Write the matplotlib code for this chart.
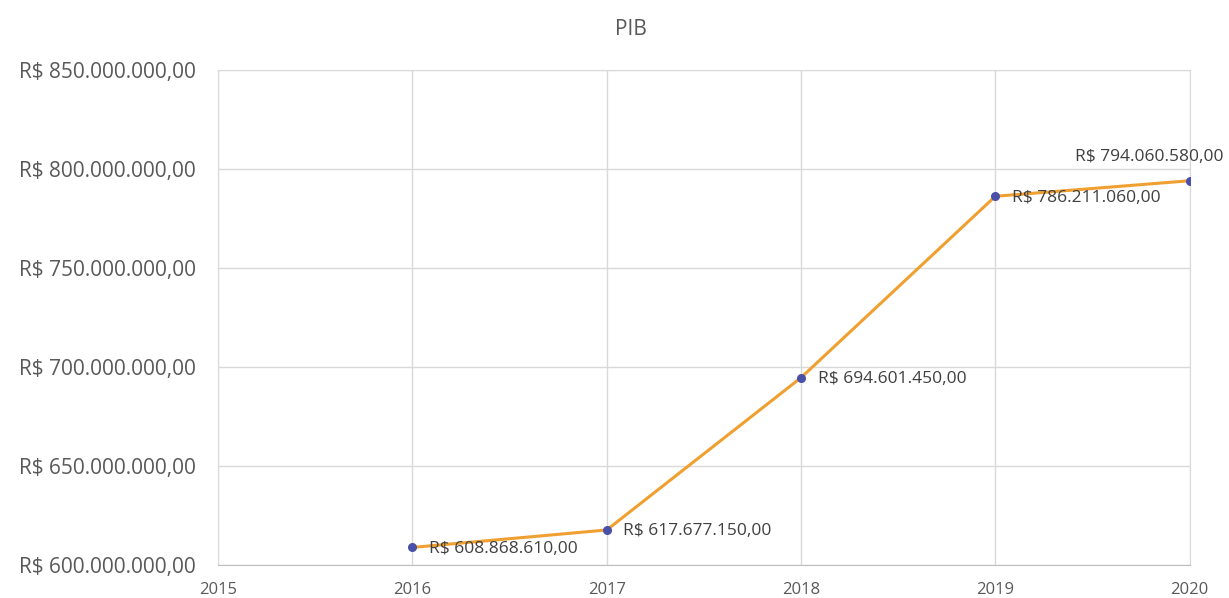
import matplotlib.pyplot as plt
from matplotlib.ticker import FuncFormatter

anos = [2016, 2017, 2018, 2019, 2020]
pib = [608868610.00, 617677150.00, 694601450.00, 786211060.00, 794060580.00]
yticks = [600e6, 650e6, 700e6, 750e6, 800e6, 850e6]
xticks = [2015, 2016, 2017, 2018, 2019, 2020]


def brl(v):
    s = f"{v:,.2f}"
    s = s.replace(",", "X").replace(".", ",").replace("X", ".")
    return "R$ " + s


plt.rcParams['font.family'] = ['Open Sans', 'DejaVu Sans']

fig = plt.figure(figsize=(12.29, 5.98), dpi=100)
ax = fig.add_axes([0.1774, 0.0552, 0.7906, 0.8278])

ax.plot(anos, pib, color='#F0A030', lw=2.2, zorder=3)
ax.plot(anos, pib, ls='none', marker='o', ms=5.5, color='#4A4FA8', zorder=4)

for i, (x, y) in enumerate(zip(anos, pib)):
    if i == len(anos) - 1:
        ax.annotate(brl(y), (x, y), xytext=(-29, 17), textcoords='offset points',
                    ha='center', va='center', fontsize=12.5, color='#404040',
                    annotation_clip=False)
    else:
        ax.annotate(brl(y), (x, y), xytext=(12, -1), textcoords='offset points',
                    ha='left', va='center', fontsize=12.5, color='#404040')

ax.set_xlim(2015, 2020)
ax.set_ylim(600e6, 850e6)
ax.set_xticks(xticks)
ax.set_yticks(yticks)
ax.yaxis.set_major_formatter(FuncFormatter(lambda v, p: brl(v)))
ax.grid(True, color='#D9D9D9', lw=1)
ax.set_axisbelow(True)
for side in ['top', 'right', 'left']:
    ax.spines[side].set_color('#D9D9D9')
ax.spines['bottom'].set_color('#BFBFBF')
ax.tick_params(length=0)
ax.tick_params(axis='y', labelsize=15, labelcolor='#595959', pad=16)
ax.tick_params(axis='x', labelsize=12, labelcolor='#595959', pad=12)

fig.text(0.5135, 0.95, 'PIB', ha='center', va='center', fontsize=15, color='#595959')

fig.savefig('out.png', dpi=100)
